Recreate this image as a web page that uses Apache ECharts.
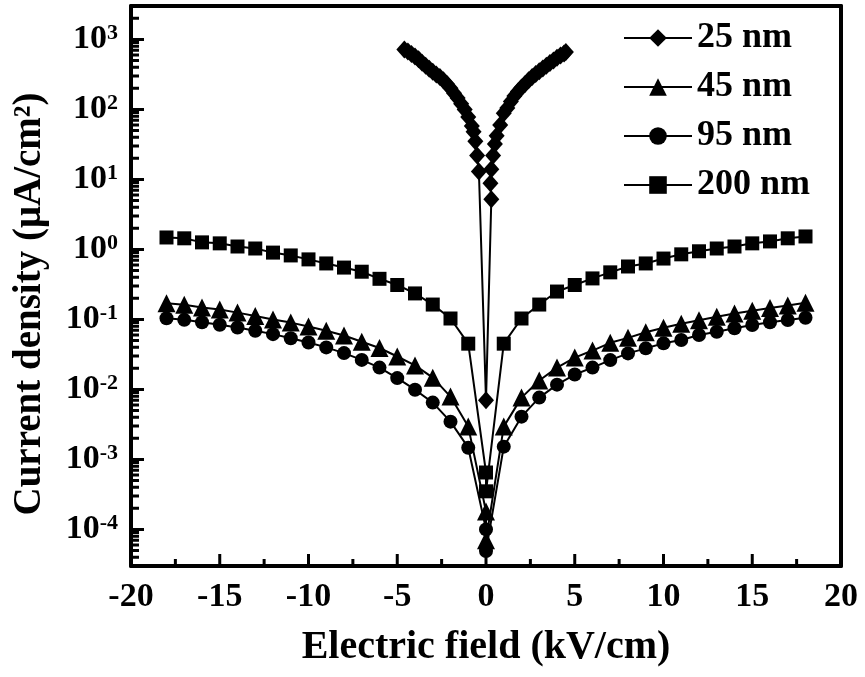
<!DOCTYPE html>
<html>
<head>
<meta charset="utf-8">
<script src="https://cdn.jsdelivr.net/npm/echarts@6/dist/echarts.min.js"></script>
<style>html,body{margin:0;padding:0;background:#fff}#c{width:865px;height:677px}</style>
</head>
<body>
<div id="c"></div>
<script>
// ---- data ----
const seriesNames = ['25 nm', '45 nm', '95 nm', '200 nm'];
const xTickLabels = [-20, -15, -10, -5, 0, 5, 10, 15, 20];
const xMinorTicks = [-17.5, -12.5, -7.5, -2.5, 2.5, 7.5, 12.5, 17.5];
const yMajorTicks = [1e-4, 1e-3, 1e-2, 1e-1, 1, 10, 100, 1000];
const yMinorMantissas = [2, 3, 4, 5, 6, 7, 8, 9];
const yMinorDecades = [1e-5, 1e-4, 1e-3, 1e-2, 1e-1, 1, 10, 100, 1000];

const e25 = [-4.6,-4.4,-4.2,-4.0,-3.8,-3.6,-3.4,-3.2,-3.0,-2.8,-2.6,-2.4,-2.2,-2.0,-1.8,-1.6,-1.4,-1.2,-1.0,-0.8,-0.7,-0.6,-0.5,-0.4,
  0,
  0.3,0.25,0.3,0.4,0.5,0.6,0.8,1.0,1.2,1.4,1.6,1.8,2.0,2.2,2.4,2.6,2.8,3.0,3.2,3.4,3.6,3.8,4.0,4.2,4.4,4.5];
const j25 = [720,670,620,570,520,465,420,380,345,315,290,260,230,200,170,145,120,100,78,58,48,35,22,13,
  0.007,
  5.2,8.8,14,22,32,42,60,88,105,130,155,180,205,230,260,290,320,350,385,420,460,500,545,590,630,660];

const e45 = [-18,-17,-16,-15,-14,-13,-12,-11,-10,-9,-8,-7,-6,-5,-4,-3,-2,-1,0,0,1,2,3,4,5,6,7,8,9,10,11,12,13,14,15,16,17,18];
const j45 = [0.17,0.162,0.148,0.138,0.125,0.112,0.100,0.090,0.079,0.069,0.059,0.048,0.039,0.0295,0.022,0.0147,0.0079,0.00294,
  1.8e-4,7e-5,
  0.00294,0.00763,0.0134,0.0205,0.0285,0.0359,0.0463,0.0545,0.0656,0.0758,0.0865,0.0974,0.109,0.121,0.133,0.145,0.158,0.173];

const e95 = [-18,-17,-16,-15,-14,-13,-12,-11,-10,-9,-8,-7,-6,-5,-4,-3,-2,-1,0,0,1,2,3,4,5,6,7,8,9,10,11,12,13,14,15,16,17,18];
const j95 = [0.104,0.0986,0.091,0.084,0.0766,0.0687,0.0616,0.0537,0.0467,0.0398,0.033,0.0264,0.0205,0.0145,0.0099,0.00648,0.00346,0.00147,
  1.0e-4,4.9e-5,
  0.00152,0.00408,0.00763,0.0117,0.0163,0.0205,0.0262,0.0327,0.0386,0.0455,0.0507,0.0598,0.0667,0.0746,0.0832,0.091,0.098,0.1057];

const e200 = [-18,-17,-16,-15,-14,-13,-12,-11,-10,-9,-8,-7,-6,-5,-4,-3,-2,-1,0,0,1,2,3,4,5,6,7,8,9,10,11,12,13,14,15,16,17,18];
const j200 = [1.48,1.44,1.26,1.22,1.10,1.03,0.90,0.82,0.72,0.63,0.55,0.48,0.38,0.31,0.235,0.163,0.103,0.045,
  6.5e-4,3.5e-4,
  0.045,0.103,0.163,0.25,0.31,0.385,0.47,0.57,0.63,0.74,0.85,0.94,1.03,1.10,1.22,1.30,1.44,1.53];

// ---- chart ----
const FONT = '"Liberation Serif", "Times New Roman", serif';
const X_MIN = -20, X_MAX = 20, Y_MIN = 3e-5, Y_MAX = 3000;
const GRID = {left: 131, right: 24, top: 6, bottom: 111};
const W = 865, H = 677;
const zip = (xs, ys) => xs.map((x, i) => [x, ys[i]]);
const chart = echarts.init(document.getElementById('c'), null, {renderer: 'canvas'});

const yMinorTicks = [];
yMinorDecades.forEach(d => yMinorMantissas.forEach(m => {
  const v = +(m * d).toPrecision(3);
  if (v > Y_MIN * 0.999 && v < Y_MAX * 0.999) yMinorTicks.push(v);
}));

// tick length expressed in axis units (pixels -> data via the plot size)
const xPerPx = (X_MAX - X_MIN) / (W - GRID.left - GRID.right);
const decPerPx = (Math.log10(Y_MAX) - Math.log10(Y_MIN)) / (H - GRID.top - GRID.bottom);
function yTickData(vals, lenPx) {
  const out = [];
  vals.forEach(v => { out.push([X_MIN, v], [X_MIN + lenPx * xPerPx, v], ['-', '-']); });
  return out;
}
function xTickData(vals, lenPx) {
  const out = [];
  vals.forEach(v => { out.push([v, Y_MIN], [v, Y_MIN * Math.pow(10, lenPx * decPerPx)], ['-', '-']); });
  return out;
}
function tickLine(data) {
  return {
    type: 'line', data, symbol: 'none', showSymbol: false, connectNulls: false,
    xAxisIndex: 0, yAxisIndex: 0, silent: true, animation: false, z: 4,
    lineStyle: {color: '#000', width: 3, cap: 'butt'}, emphasis: {disabled: true}
  };
}

function mk(name, xs, ys, symbol, size) {
  return {
    name, type: 'line', data: zip(xs, ys), symbol, symbolSize: size,
    xAxisIndex: 0, yAxisIndex: 0,
    showAllSymbol: true, showSymbol: true, animation: false,
    itemStyle: {color: '#000', borderWidth: 0},
    lineStyle: {color: '#000', width: 2},
    emphasis: {disabled: true}, z: 3
  };
}
const AX_LINE = {show: true, onZero: false, lineStyle: {color: '#000', width: 4}};

chart.setOption({
  animation: false,
  backgroundColor: '#fff',
  grid: Object.assign({containLabel: false}, GRID),
  legend: {
    orient: 'vertical', left: 618, top: 15, itemWidth: 68, itemHeight: 22, itemGap: 13,
    data: seriesNames,
    textStyle: {fontFamily: FONT, fontWeight: 'bold', fontSize: 36, lineHeight: 36, color: '#000'},
    inactiveColor: '#000', selectedMode: false
  },
  xAxis: [{
    type: 'value', min: X_MIN, max: X_MAX, interval: 5, position: 'bottom',
    axisLine: AX_LINE, axisTick: {show: false}, minorTick: {show: false}, splitLine: {show: false},
    axisLabel: {show: true, fontFamily: FONT, fontWeight: 'bold', fontSize: 34, color: '#000', margin: 14,
      formatter: v => xTickLabels.includes(v) ? String(v) : ''},
    name: 'Electric field (kV/cm)', nameLocation: 'middle', nameGap: 62,
    nameTextStyle: {fontFamily: FONT, fontWeight: 'bold', fontSize: 40, color: '#000'}
  }, {
    type: 'value', min: X_MIN, max: X_MAX, interval: 5, position: 'top',
    axisLine: AX_LINE, axisTick: {show: false}, axisLabel: {show: false}, splitLine: {show: false}
  }],
  yAxis: [{
    type: 'log', logBase: 10, min: Y_MIN, max: Y_MAX, position: 'left',
    axisLine: AX_LINE, axisTick: {show: false}, minorTick: {show: false}, splitLine: {show: false},
    axisLabel: {
      show: true, margin: 13, color: '#000',
      formatter: v => {
        const e = Math.log10(v), n = Math.round(e);
        if (Math.abs(e - n) > 1e-6) return '';
        return '{b|10}{s|' + n + '}';
      },
      rich: {
        b: {fontFamily: FONT, fontWeight: 'bold', fontSize: 34, lineHeight: 34, color: '#000'},
        s: {fontFamily: FONT, fontWeight: 'bold', fontSize: 22, lineHeight: 22, verticalAlign: 'top', color: '#000'}
      }
    },
    name: 'Current density (\u03bcA/cm\u00b2)', nameLocation: 'middle', nameGap: 82, nameRotate: 90,
    nameTextStyle: {fontFamily: FONT, fontWeight: 'bold', fontSize: 39, color: '#000', padding: [0, 36, 0, 0]}
  }, {
    type: 'log', logBase: 10, min: Y_MIN, max: Y_MAX, position: 'right',
    axisLine: AX_LINE, axisTick: {show: false}, minorTick: {show: false}, axisLabel: {show: false}, splitLine: {show: false}
  }],
  series: [
    mk(seriesNames[0], e25, j25, 'diamond', [16, 18]),
    mk(seriesNames[1], e45, j45, 'triangle', 18),
    mk(seriesNames[2], e95, j95, 'circle', 14),
    mk(seriesNames[3], e200, j200, 'rect', 14),
    tickLine(yTickData(yMajorTicks, 13)),
    tickLine(yTickData(yMinorTicks, 8)),
    tickLine(xTickData(xTickLabels, 12)),
    tickLine(xTickData(xMinorTicks, 7))
  ]
});
</script>
</body>
</html>
